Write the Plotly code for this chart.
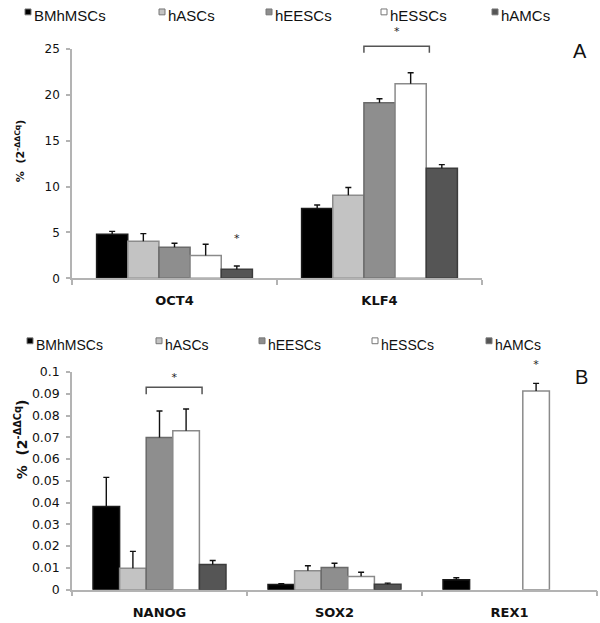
import plotly.graph_objects as go

# ---------------- data ----------------
series = ["BMhMSCs", "hASCs", "hEESCs", "hESSCs", "hAMCs"]
fill_colors = ["#000000", "#c3c3c3", "#8e8e8e", "#ffffff", "#555555"]
edge_colors = ["#1a1a1a", "#8c8c8c", "#6a6a6a", "#8a8a8a", "#3c3c3c"]

genes_a = ["OCT4", "KLF4"]
vals_a = {
    "BMhMSCs": [4.8, 7.6],
    "hASCs": [4.05, 9.05],
    "hEESCs": [3.4, 19.15],
    "hESSCs": [2.5, 21.2],
    "hAMCs": [1.0, 12.0],
}
err_a = {
    "BMhMSCs": [0.32, 0.40],
    "hASCs": [0.82, 0.85],
    "hEESCs": [0.43, 0.43],
    "hESSCs": [1.21, 1.21],
    "hAMCs": [0.35, 0.40],
}

genes_b = ["NANOG", "SOX2", "REX1"]
vals_b = {
    "BMhMSCs": [0.0382, 0.0024, 0.0046],
    "hASCs": [0.0098, 0.0087, None],
    "hEESCs": [0.0699, 0.0102, None],
    "hESSCs": [0.0730, 0.0061, 0.0913],
    "hAMCs": [0.0116, 0.0025, None],
}
err_b = {
    "BMhMSCs": [0.0134, 0.0003, 0.0009],
    "hASCs": [0.0078, 0.0023, 0],
    "hEESCs": [0.0122, 0.0019, 0],
    "hESSCs": [0.0100, 0.0019, 0.0035],
    "hAMCs": [0.0018, 0.0005, 0],
}

# significance marks: (gene, series_from, series_to, bracket_y, drop, star_y)
brackets_a = [("KLF4", "hEESCs", "hESSCs", 25.3, 0.7, 26.8)]
brackets_b = [("NANOG", "hEESCs", "hESSCs", 0.0930, 0.0032, 0.0973)]
stars_a = [("OCT4", "hAMCs", 4.3)]
stars_b = [("REX1", "hESSCs", 0.1031)]

y_title = "%  (2<sup>-ΔΔCq</sup>)"

# ---------------- layout geometry ----------------
W, H = 600, 623
BARGAP = 0.24
BW = (1 - BARGAP) / len(series)
CAP_PX = 3


def xp(px):
    return px / W


def yp(py):
    return 1 - py / H


panel_a = dict(x=(72, 482), y=(42, 277), ext=10, ymax=25, dtick=5, tick=12, lab=13, stand=9)
panel_b = dict(x=(72, 597), y=(373, 596), ext=352, ymax=0.1, dtick=0.01, tick=12.5, lab=13, stand=10)

fig = go.Figure()

AX = dict(showline=True, linecolor="#b3b3b3", linewidth=1.5, ticks="outside",
          tickcolor="#b3b3b3", tickwidth=1.5, showgrid=False, zeroline=False)


def add_panel(idx, ov, genes, vals, errs, brackets, stars, P):
    xa, ya = f"x{idx if idx > 1 else ''}", f"y{idx if idx > 1 else ''}"
    xo, yo = f"x{ov}", f"y{ov}"
    for i, s in enumerate(series):
        fig.add_trace(go.Bar(
            x=genes, y=vals[s], name=s, xaxis=xa, yaxis=ya, showlegend=False,
            marker=dict(color=fill_colors[i], line=dict(color=edge_colors[i], width=1.5)),
        ))
    # upper-only error whiskers, drawn on an invisible linear overlay of the same scale
    cat_px = (P["x"][1] - P["x"][0]) / len(genes)
    cap = CAP_PX / cat_px
    ex, ey = [], []
    for i, s in enumerate(series):
        for gi, g in enumerate(genes):
            v, e = vals[s][gi], errs[s][gi]
            if v is None or not e:
                continue
            xc = gi + (i - 2) * BW
            ex += [xc, xc, None, xc - cap, xc + cap, None]
            ey += [v, v + e, None, v + e, v + e, None]
    fig.add_trace(go.Scatter(x=ex, y=ey, mode="lines", line=dict(color="#111111", width=1.4),
                             xaxis=xo, yaxis=yo, showlegend=False, hoverinfo="skip"))
    for g, s0, s1, yb, drop, ys in brackets:
        gi = genes.index(g)
        c0 = gi + (series.index(s0) - 2) * BW
        c1 = gi + (series.index(s1) - 2) * BW
        xl, xr = c0 - 0.5 * BW, c1 + 0.6 * BW
        fig.add_trace(go.Scatter(
            x=[xl, xl, xr, xr], y=[yb - drop, yb, yb, yb - drop], mode="lines",
            line=dict(color="#555555", width=1.5), xaxis=xo, yaxis=yo,
            showlegend=False, hoverinfo="skip"))
        fig.add_trace(go.Scatter(
            x=[(xl + xr) / 2], y=[ys], mode="text", text=["*"],
            textfont=dict(family="DejaVu Sans", size=11, color="#222222"),
            xaxis=xo, yaxis=yo, showlegend=False, hoverinfo="skip", cliponaxis=False))
    for g, s, ys in stars:
        gi = genes.index(g)
        fig.add_trace(go.Scatter(
            x=[gi + (series.index(s) - 2) * BW], y=[ys], mode="text", text=["*"],
            textfont=dict(family="DejaVu Sans", size=11, color="#222222"),
            xaxis=xo, yaxis=yo, showlegend=False, hoverinfo="skip", cliponaxis=False))

    dom_x = [xp(P["x"][0]), xp(P["x"][1])]
    dom_y = [yp(P["y"][1]), yp(P["y"][0])]
    ext_y = yp(P["ext"])
    key = "" if idx == 1 else str(idx)
    fig.update_layout(**{
        f"xaxis{key}": dict(AX, domain=dom_x, type="category", anchor=ya,
                            tickson="boundaries", ticklen=5, ticklabelstandoff=P["stand"],
                            tickfont=dict(family="DejaVu Sans", size=P["lab"],
                                          color="#111111", weight="bold")),
        f"yaxis{key}": dict(AX, domain=dom_y, range=[0, P["ymax"]], dtick=P["dtick"],
                            anchor=xa, ticklen=4, ticklabelstandoff=4,
                            tickfont=dict(family="DejaVu Sans", size=P["tick"], color="#111111")),
        f"xaxis{ov}": dict(domain=dom_x, range=[-0.5, len(genes) - 0.5], visible=False,
                           anchor=yo, fixedrange=True),
        f"yaxis{ov}": dict(domain=[dom_y[0], ext_y],
                           range=[0, P["ymax"] * (ext_y - dom_y[0]) / (dom_y[1] - dom_y[0])],
                           visible=False, anchor=xo, fixedrange=True),
    })


add_panel(1, 3, genes_a, vals_a, err_a, brackets_a, stars_a, panel_a)
add_panel(2, 4, genes_b, vals_b, err_b, brackets_b, stars_b, panel_b)

# ---------------- legends (one row per panel) ----------------
legend_rows = [
    dict(sq=[25, 159, 266, 381, 492], y=8, size=15),
    dict(sq=[27, 156, 259, 372, 486], y=345, size=14),
]
shapes, annos = [], []
for row in legend_rows:
    for i, s in enumerate(series):
        x0 = row["sq"][i]
        shapes.append(dict(type="rect", xref="paper", yref="paper",
                           x0=xp(x0), x1=xp(x0 + 6), y0=yp(row["y"] - 1), y1=yp(row["y"] - 7),
                           fillcolor=fill_colors[i], line=dict(color="#777777", width=1)))
        annos.append(dict(text=s, xref="paper", yref="paper", x=xp(x0 + 7), y=yp(row["y"]),
                          xanchor="left", yanchor="middle", showarrow=False,
                          font=dict(family="Liberation Sans", size=row["size"], color="#111111")))

# panel letters
annos.append(dict(text="A", xref="paper", yref="paper", x=xp(589), y=yp(31),
                  showarrow=False, font=dict(family="Liberation Sans", size=20, color="#111111")))
annos.append(dict(text="B", xref="paper", yref="paper", x=xp(590), y=yp(378),
                  showarrow=False, font=dict(family="Liberation Sans", size=20, color="#111111")))

# y-axis titles
annos.append(dict(text="<b>" + y_title + "</b>", xref="paper", yref="paper", x=xp(11), y=yp(112),
                  textangle=-90, showarrow=False,
                  font=dict(family="DejaVu Sans", size=11, color="#111111")))
annos.append(dict(text="<b>" + y_title + "</b>", xref="paper", yref="paper", x=xp(10), y=yp(485),
                  textangle=-90, showarrow=False,
                  font=dict(family="DejaVu Sans", size=14, color="#111111")))

fig.update_layout(
    width=W, height=H, margin=dict(l=0, r=0, t=0, b=0),
    paper_bgcolor="white", plot_bgcolor="rgba(0,0,0,0)",
    barmode="group", bargap=BARGAP, bargroupgap=0,
    shapes=shapes, annotations=annos, showlegend=False,
)

fig.write_html("out.html", config={"displayModeBar": False},
               post_script="document.body.style.margin='0';document.body.style.overflow='hidden';")
